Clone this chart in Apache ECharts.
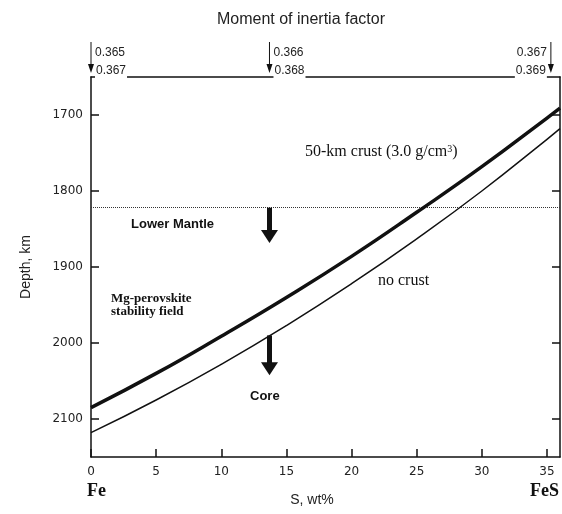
<!DOCTYPE html>
<html><head><meta charset="utf-8">
<script src="https://cdn.jsdelivr.net/npm/echarts@6/dist/echarts.min.js"></script>
<style>html,body{margin:0;padding:0;background:#fff}#c{width:562px;height:514px}</style>
</head><body><div id="c"></div>
<script>
// ---- data ----
const sulfur = [0, 5, 10, 15, 20, 25, 30, 35, 36];
const depthCrust = [2085, 2040, 1991, 1940, 1886, 1828, 1768, 1704, 1691];
const depthNoCrust = [2118, 2075, 2028, 1977, 1922, 1863, 1800, 1732, 1718];
const xTicks = [0, 5, 10, 15, 20, 25, 30, 35];
const yTicks = [1700, 1800, 1900, 2000, 2100];
const mantleDepth = 1822;
const arrowS = 13.7;
const mantleArrow = [1822, 1860];
const coreArrow = [1990, 2034];
const momentS = [0, 13.7, 35.3];
const momentUpper = ['0.365', '0.366', '0.367'];
const momentLower = ['0.367', '0.368', '0.369'];

const sans = '"Liberation Sans", Arial, sans-serif';
const serif = '"Liberation Serif", "Times New Roman", serif';
const tickFont = '"DejaVu Sans", sans-serif';
const ink = '#111';

const chart = echarts.init(document.getElementById('c'));
const axisLine = {show: true, onZero: false, lineStyle: {color: ink, width: 1.5}};
const tickStyle = {color: ink, width: 1.5};

const zip = (a, b) => a.map((v, i) => [v, b[i]]);

chart.setOption({
  animation: false,
  backgroundColor: '#fff',
  grid: {left: 91, right: 2, top: 77, bottom: 57},
  xAxis: [
    {type: 'value', min: 0, max: 36, position: 'bottom', axisLine,
     axisTick: {inside: true, length: 8, customValues: xTicks, lineStyle: tickStyle},
     axisLabel: {customValues: xTicks, fontFamily: tickFont, fontSize: 12, color: '#222', margin: 9,
       formatter: v => String(v)},
     splitLine: {show: false}},
    {type: 'value', min: 0, max: 36, position: 'top', axisLine,
     axisTick: {show: false}, axisLabel: {show: false}, splitLine: {show: false}}
  ],
  yAxis: [
    {type: 'value', inverse: true, min: 1650, max: 2150, position: 'left', axisLine,
     axisTick: {inside: true, length: 8, customValues: yTicks, lineStyle: tickStyle},
     axisLabel: {customValues: yTicks, fontFamily: tickFont, fontSize: 12, color: '#222', margin: 8,
       formatter: v => String(v)},
     splitLine: {show: false},
     name: 'Depth, km', nameLocation: 'middle', nameGap: 58, nameRotate: 90,
     nameTextStyle: {fontFamily: sans, fontSize: 14, color: '#222'}},
    {type: 'value', inverse: true, min: 1650, max: 2150, position: 'right', axisLine,
     axisTick: {inside: true, length: 8, customValues: yTicks, lineStyle: tickStyle},
     axisLabel: {show: false}, splitLine: {show: false}}
  ],
  series: [
    {name: '50-km crust', type: 'line', data: zip(sulfur, depthCrust), smooth: true,
     showSymbol: false, lineStyle: {color: ink, width: 3.5}, z: 5,
     markLine: {silent: true, symbol: 'none', label: {show: false},
       lineStyle: {type: 'dotted', color: '#333', width: 1},
       data: [{yAxis: mantleDepth}]}},
    {name: 'no crust', type: 'line', data: zip(sulfur, depthNoCrust), smooth: true,
     showSymbol: false, lineStyle: {color: ink, width: 1.5}, z: 5,
     markLine: {silent: true, symbol: ['none', 'triangle'], symbolSize: [17, 13],
       label: {show: false}, lineStyle: {type: 'solid', color: ink, width: 5},
       data: [
         [{coord: [arrowS, mantleArrow[0]]}, {coord: [arrowS, mantleArrow[1]]}],
         [{coord: [arrowS, coreArrow[0]]}, {coord: [arrowS, coreArrow[1]]}]
       ]}}
  ]
});

const g = [];
g.push({type: 'text', x: 301, y: 20, style: {text: 'Moment of inertia factor', font: '16px ' + sans, fill: '#222', align: 'center', verticalAlign: 'middle'}});
momentS.forEach((s, i) => {
  const px = chart.convertToPixel({xAxisIndex: 0}, s);
  g.push({type: 'line', shape: {x1: px, y1: 42, x2: px, y2: 66}, style: {stroke: ink, lineWidth: 1}});
  g.push({type: 'polygon', shape: {points: [[px - 3, 64], [px + 3, 64], [px, 73]]}, style: {fill: ink}});
  const right = i === momentS.length - 1;
  const tx = right ? px - 4 : px + 4;
  const al = right ? 'right' : 'left';
  g.push({type: 'text', x: tx, y: 53, style: {text: momentUpper[i], font: '12px ' + sans, fill: '#222', align: al, verticalAlign: 'middle'}});
  g.push({type: 'text', x: tx, y: 71, z: 10, style: {text: momentLower[i], font: '12px ' + sans, fill: '#222', align: al, verticalAlign: 'middle', backgroundColor: '#fff', padding: [0, 1, 2, 1]}});
});
g.push({type: 'text', x: 305, y: 152, style: {rich: {n: {font: '16px ' + serif, fill: '#111'}, s: {font: '10px ' + serif, fill: '#111', verticalAlign: 'top', padding: [0, 0, 6, 0]}}, text: '{n|50-km crust (3.0 g/cm}{s|3}{n|)}', verticalAlign: 'middle'}});
g.push({type: 'text', x: 131, y: 224, style: {text: 'Lower Mantle', font: 'bold 13px ' + sans, fill: '#111', verticalAlign: 'middle'}});
g.push({type: 'text', x: 111, y: 305, style: {text: 'Mg-perovskite\nstability field', font: 'bold 13px ' + serif, fill: '#111', verticalAlign: 'middle', lineHeight: 13}});
g.push({type: 'text', x: 378, y: 281, style: {text: 'no crust', font: '16px ' + serif, fill: '#111', verticalAlign: 'middle'}});
g.push({type: 'text', x: 250, y: 396, style: {text: 'Core', font: 'bold 13px ' + sans, fill: '#111', verticalAlign: 'middle'}});
g.push({type: 'text', x: 87, y: 491, style: {text: 'Fe', font: 'bold 18px ' + serif, fill: '#111', verticalAlign: 'middle'}});
g.push({type: 'text', x: 559, y: 491, style: {text: 'FeS', font: 'bold 18px ' + serif, fill: '#111', align: 'right', verticalAlign: 'middle'}});
g.push({type: 'text', x: 312, y: 500, style: {text: 'S, wt%', font: '14px ' + sans, fill: '#222', align: 'center', verticalAlign: 'middle'}});
chart.setOption({graphic: g});
</script>
</body></html>
